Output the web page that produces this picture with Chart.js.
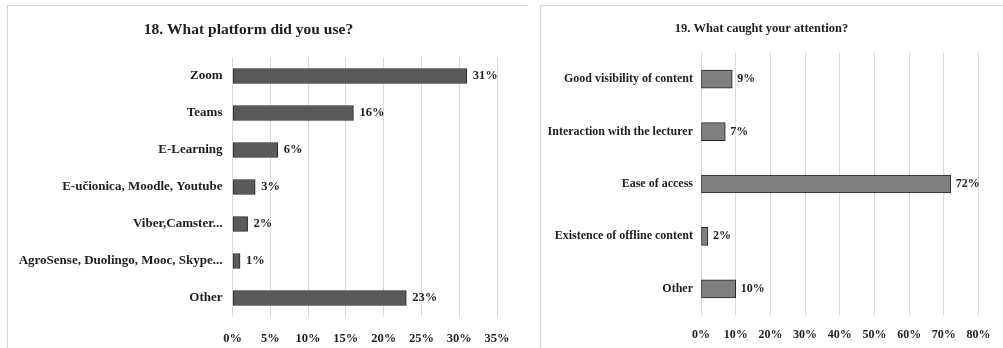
<!DOCTYPE html>
<html>
<head>
<meta charset="utf-8">
<script src="https://cdn.jsdelivr.net/npm/chart.js@4/dist/chart.umd.min.js"></script>
<style>
  body { margin: 0; background: #fff; }
  .box { position: absolute; }
  .line { position: absolute; background: #d4d4d4; }
</style>
</head>
<body>
<div class="line" style="left:7px;top:5px;width:520px;height:1px;"></div>
<div class="line" style="left:7px;top:5px;width:1px;height:343px;"></div>
<div class="line" style="left:540px;top:5px;width:463px;height:1px;"></div>
<div class="line" style="left:540px;top:5px;width:1px;height:343px;"></div>

<div class="box" style="left:0;top:0;width:535px;height:348px;"><canvas id="platformChart"></canvas></div>
<div class="box" style="left:540px;top:0;width:463px;height:348px;"><canvas id="attentionChart"></canvas></div>

<script>
// Q18 data
var platformLabels = ["Zoom", "Teams", "E-Learning", "E-učionica, Moodle, Youtube", "Viber,Camster...", "AgroSense, Duolingo, Mooc, Skype...", "Other"];
var platformValues = [31, 16, 6, 3, 2, 1, 23];
var platformTicks = [0, 5, 10, 15, 20, 25, 30, 35];

// Q19 data
var attentionLabels = ["Good visibility of content", "Interaction with the lecturer", "Ease of access", "Existence of offline content", "Other"];
var attentionValues = [9, 7, 72, 2, 10];
var attentionTicks = [0, 10, 20, 30, 40, 50, 60, 70, 80];

var serif = "'Liberation Serif', 'Times New Roman', serif";
var textColor = "#1e1e1e";

// draws "xx%" just right of each bar
var valueLabels = {
    id: "valueLabels",
    afterDatasetsDraw: function (chart, args, opts) {
        var ctx = chart.ctx;
        var ds = chart.data.datasets[0];
        ctx.save();
        ctx.font = opts.font;
        ctx.fillStyle = textColor;
        ctx.textAlign = "left";
        ctx.textBaseline = "middle";
        chart.getDatasetMeta(0).data.forEach(function (bar, i) {
            ctx.fillText(ds.data[i] + "%", bar.x + opts.offset, bar.y);
        });
        ctx.restore();
    }
};

function makeChart(id, labels, values, ticks, o) {
    var ctx = document.getElementById(id).getContext("2d");
    return new Chart(ctx, {
        type: "bar",
        data: {
            labels: labels,
            datasets: [{
                data: values,
                backgroundColor: o.fill,
                borderColor: "#262626",
                borderWidth: 1,
                borderSkipped: false,
                barThickness: o.barThickness
            }]
        },
        plugins: [valueLabels],
        options: {
            indexAxis: "y",
            responsive: true,
            maintainAspectRatio: false,
            animation: false,
            layout: { padding: o.padding },
            plugins: {
                legend: { display: false },
                tooltip: { enabled: false },
                title: {
                    display: true,
                    text: o.title,
                    color: textColor,
                    font: { family: serif, size: o.titleSize, weight: "bold" },
                    padding: o.titlePadding
                },
                valueLabels: { font: "bold " + o.valueSize + "px " + serif, offset: o.valueOffset }
            },
            scales: {
                x: {
                    min: ticks[0],
                    max: ticks[ticks.length - 1],
                    afterBuildTicks: function (scale) {
                        scale.ticks = ticks.map(function (v) { return { value: v }; });
                    },
                    afterFit: function (scale) { scale.height = o.xHeight; },
                    grid: { color: "#d9d9d9", drawTicks: false },
                    border: { display: false },
                    ticks: {
                        padding: o.xPad,
                        color: textColor,
                        font: { family: serif, size: o.tickSize, weight: "bold" },
                        callback: function (v) { return v + "%"; }
                    }
                },
                y: {
                    afterFit: function (scale) { scale.width = o.yWidth; },
                    grid: { display: false, drawTicks: false },
                    border: { display: false },
                    ticks: {
                        padding: o.yPad,
                        color: textColor,
                        font: { family: serif, size: o.labelSize, weight: "bold" }
                    }
                }
            }
        }
    });
}

makeChart("platformChart", platformLabels, platformValues, platformTicks, {
    title: "18. What platform did you use?",
    titleSize: 15.5,
    titlePadding: { top: 20.5, bottom: 18.4 },
    padding: { left: 0, right: 38, top: 0, bottom: 0 },
    fill: "#595959",
    barThickness: 15,
    yWidth: 232.5,
    yPad: 10,
    xHeight: 31.5,
    xPad: 15,
    tickSize: 12.5,
    labelSize: 13,
    valueSize: 12.5,
    valueOffset: 6
});

makeChart("attentionChart", attentionLabels, attentionValues, attentionTicks, {
    title: "19. What caught your attention?",
    titleSize: 12.5,
    titlePadding: { top: 21, bottom: 17 },
    padding: { left: 4, right: 24, top: 0, bottom: 0 },
    fill: "#7f7f7f",
    barThickness: 18,
    yWidth: 157,
    yPad: 8,
    xHeight: 33,
    xPad: 12.5,
    tickSize: 12,
    labelSize: 12,
    valueSize: 12,
    valueOffset: 5
});
</script>
</body>
</html>
